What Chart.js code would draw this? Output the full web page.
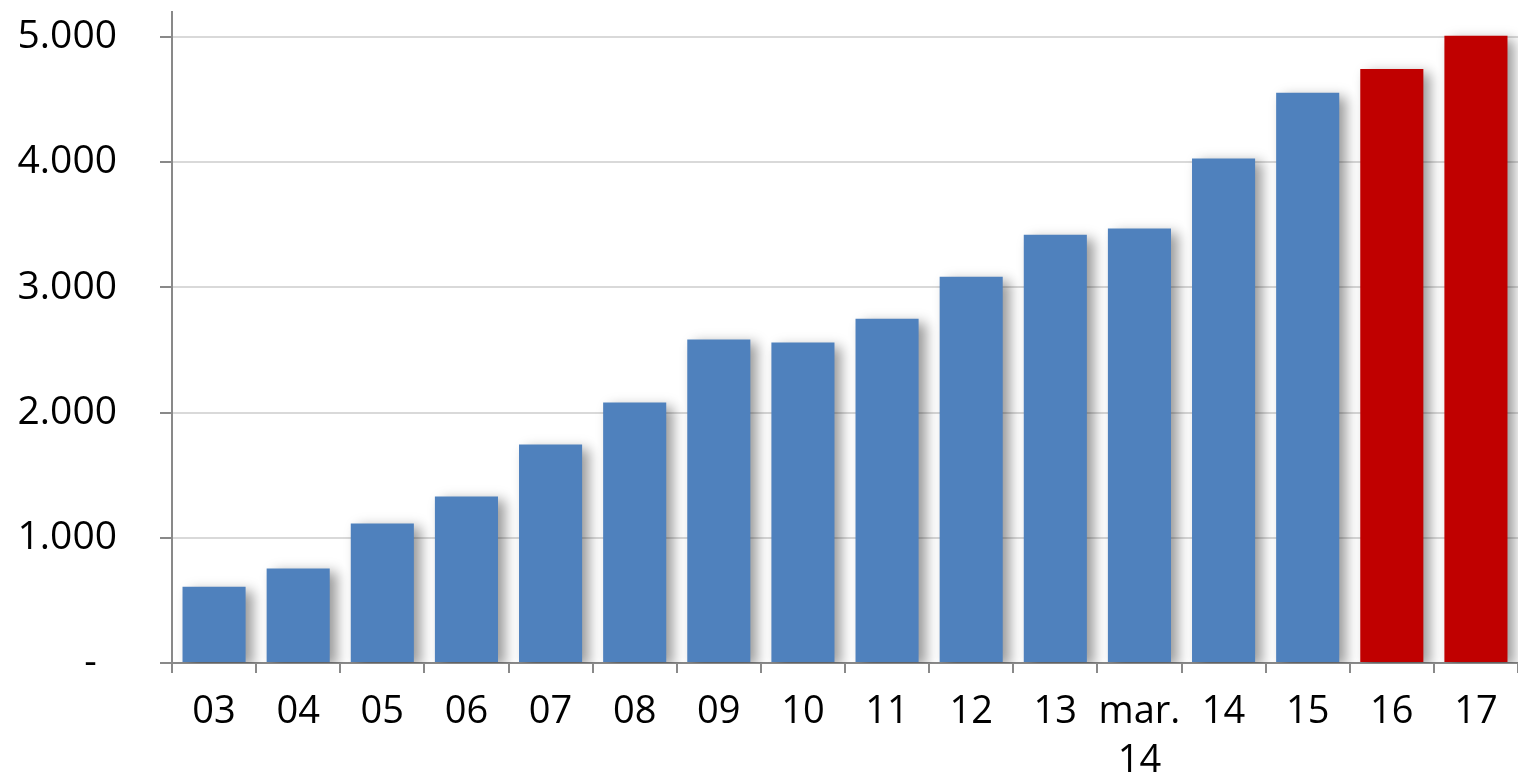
<!DOCTYPE html>
<html>
<head>
<meta charset="utf-8">
<script src="https://cdn.jsdelivr.net/npm/chart.js@4/dist/chart.umd.min.js"></script>
<style>
  body { margin: 0; background: #fff; }
  #wrap { width: 1518px; height: 782px; position: relative; }
</style>
</head>
<body>
<div id="wrap"><canvas id="myBarChart"></canvas></div>
<script>
// years on the x axis ("mar. 14" wraps on two lines)
var years = ['03', '04', '05', '06', '07', '08', '09', '10', '11', '12', '13', ['mar.', '14'], '14', '15', '16', '17'];
var values = [610, 755, 1115, 1330, 1745, 2080, 2585, 2560, 2750, 3085, 3420, 3470, 4030, 4555, 4745, 5010];
var yTicks = [0, 1000, 2000, 3000, 4000, 5000];

var blue = '#4F81BD';
var red = '#C00000';
var axisGray = '#898989';

// last two bars are red
var barColors = [];
for (var i = 0; i < values.length; i++) {
  barColors.push(i >= values.length - 2 ? red : blue);
}

// soft shadow to the right of the bars
var barShadow = {
  id: 'barShadow',
  beforeDatasetsDraw: function(chart) {
    var ctx = chart.ctx;
    ctx.save();
    ctx.shadowColor = 'rgba(0,0,0,0.4)';
    ctx.shadowBlur = 12;
    ctx.shadowOffsetX = 7;
    ctx.shadowOffsetY = 4;
  },
  afterDatasetsDraw: function(chart) {
    chart.ctx.restore();
  }
};

var ctx = document.getElementById('myBarChart');
var chart = new Chart(ctx, {
  type: 'bar',
  data: {
    labels: years,
    datasets: [{
      data: values,
      backgroundColor: barColors,
      borderWidth: 0,
      barPercentage: 0.75,
      categoryPercentage: 1
    }]
  },
  options: {
    responsive: true,
    maintainAspectRatio: false,
    animation: false,
    layout: { padding: { top: 12, right: 0, left: 0, bottom: 0 } },
    plugins: {
      legend: { display: false },
      tooltip: { enabled: false }
    },
    scales: {
      x: {
        offset: true,
        grid: {
          offset: true,
          drawOnChartArea: false,
          drawTicks: true,
          tickLength: 10,
          tickColor: axisGray,
          lineWidth: 2
        },
        border: { color: axisGray, width: 2 },
        ticks: {
          color: '#000',
          padding: 14,
          maxRotation: 0,
          autoSkip: false,
          font: { family: 'Open Sans', size: 38, lineHeight: 1.3 }
        },
        afterFit: function(scale) {
          scale.height = 119;
          scale.paddingLeft = 0;
          scale.paddingRight = 0;
        }
      },
      y: {
        min: 0,
        max: 5200,
        afterBuildTicks: function(scale) {
          scale.ticks = yTicks.map(function(v) { return { value: v }; });
        },
        grid: {
          color: '#d9d9d9',
          lineWidth: 2,
          tickColor: axisGray,
          tickLength: 12
        },
        border: { color: axisGray, width: 2 },
        ticks: {
          color: '#000',
          padding: 43,
          font: { family: 'Open Sans', size: 39 },
          callback: function(v) {
            if (v === 0) return '-  ';
            return v.toLocaleString('de-DE');
          }
        },
        afterFit: function(scale) {
          scale.width = 172;
          scale.paddingTop = 0;
          scale.paddingBottom = 0;
        }
      }
    }
  },
  plugins: [barShadow]
});
</script>
</body>
</html>
